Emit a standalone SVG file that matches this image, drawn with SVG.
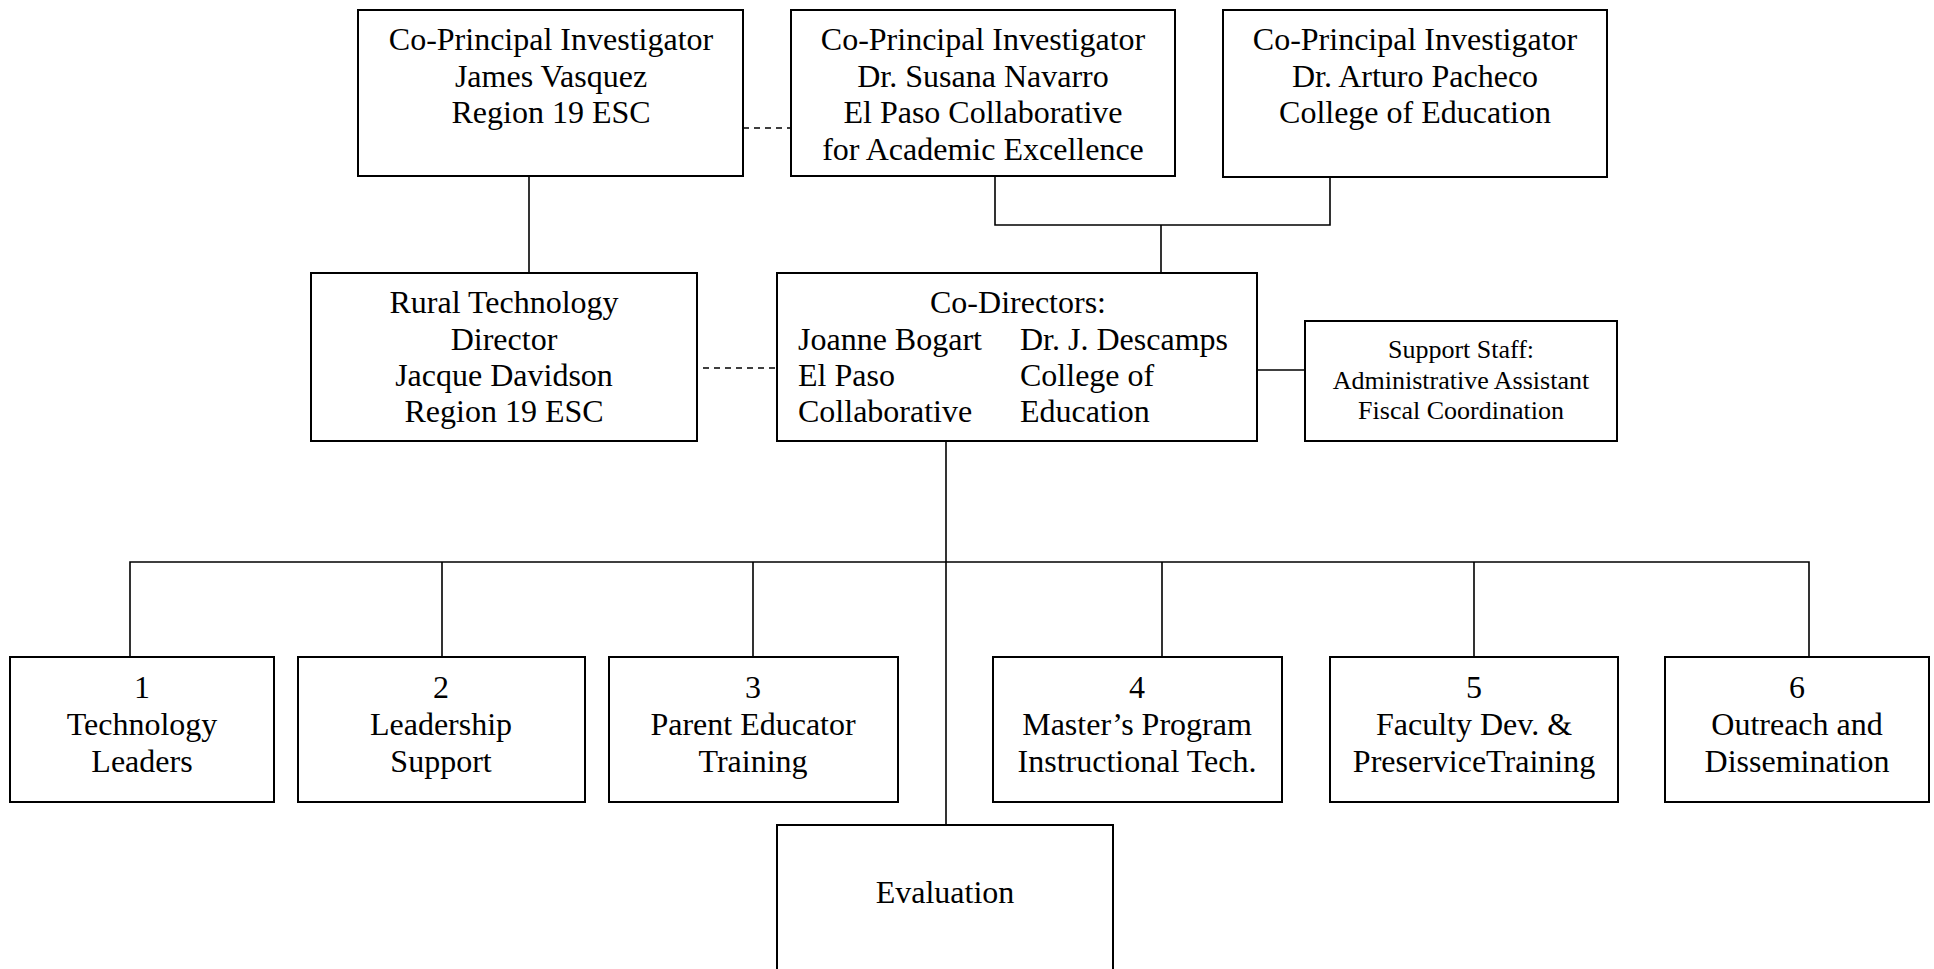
<svg xmlns="http://www.w3.org/2000/svg" width="1934" height="969" viewBox="0 0 1934 969">
<style>
.box{fill:#fff;stroke:#000;stroke-width:2}
.t{font-family:"Liberation Serif","Times New Roman",serif;font-size:32px;fill:#000;text-anchor:middle}
.s{font-size:26px}
.l{text-anchor:start}
.c{fill:none;stroke:#000;stroke-width:1.6}
.d{stroke-dasharray:6,5}
</style>
<rect width="1934" height="969" fill="#fff"/>
<g id="connectors">
<path class="c" d="M529 176V273"/>
<path class="c" d="M995 176V225H1330V177"/>
<path class="c" d="M1161 225V273"/>
<path class="c d" d="M743 128H791"/>
<path class="c d" d="M703 368H777"/>
<path class="c" d="M1257 370H1305"/>
<path class="c" d="M946 442V825"/>
<path class="c" d="M130 657V562H1809V657"/>
<path class="c" d="M442 562V657M753 562V657M1162 562V657M1474 562V657"/>
</g>
<g id="pi-vasquez">
<rect class="box" x="358" y="10" width="385" height="166"/>
<text class="t" x="551" y="50">Co-Principal Investigator</text>
<text class="t" x="551" y="87">James Vasquez</text>
<text class="t" x="551" y="123">Region 19 ESC</text>
</g>
<g id="pi-navarro">
<rect class="box" x="791" y="10" width="384" height="166"/>
<text class="t" x="983" y="50">Co-Principal Investigator</text>
<text class="t" x="983" y="87">Dr. Susana Navarro</text>
<text class="t" x="983" y="123">El Paso Collaborative</text>
<text class="t" x="983" y="160">for Academic Excellence</text>
</g>
<g id="pi-pacheco">
<rect class="box" x="1223" y="10" width="384" height="167"/>
<text class="t" x="1415" y="50">Co-Principal Investigator</text>
<text class="t" x="1415" y="87">Dr. Arturo Pacheco</text>
<text class="t" x="1415" y="123">College of Education</text>
</g>
<g id="rural-director">
<rect class="box" x="311" y="273" width="386" height="168"/>
<text class="t" x="504" y="313">Rural Technology</text>
<text class="t" x="504" y="350">Director</text>
<text class="t" x="504" y="386">Jacque Davidson</text>
<text class="t" x="504" y="422">Region 19 ESC</text>
</g>
<g id="co-directors">
<rect class="box" x="777" y="273" width="480" height="168"/>
<text class="t" x="1018" y="313">Co-Directors:</text>
<text class="t l" x="798" y="350">Joanne Bogart</text>
<text class="t l" x="798" y="386">El Paso</text>
<text class="t l" x="798" y="422">Collaborative</text>
<text class="t l" x="1020" y="350">Dr. J. Descamps</text>
<text class="t l" x="1020" y="386">College of</text>
<text class="t l" x="1020" y="422">Education</text>
</g>
<g id="support-staff">
<rect class="box" x="1305" y="321" width="312" height="120"/>
<text class="t s" x="1461" y="358">Support Staff:</text>
<text class="t s" x="1461" y="389">Administrative Assistant</text>
<text class="t s" x="1461" y="419">Fiscal Coordination</text>
</g>
<g id="comp1">
<rect class="box" x="10" y="657" width="264" height="145"/>
<text class="t" x="142" y="698">1</text>
<text class="t" x="142" y="735">Technology</text>
<text class="t" x="142" y="772">Leaders</text>
</g>
<g id="comp2">
<rect class="box" x="298" y="657" width="287" height="145"/>
<text class="t" x="441" y="698">2</text>
<text class="t" x="441" y="735">Leadership</text>
<text class="t" x="441" y="772">Support</text>
</g>
<g id="comp3">
<rect class="box" x="609" y="657" width="289" height="145"/>
<text class="t" x="753" y="698">3</text>
<text class="t" x="753" y="735">Parent Educator</text>
<text class="t" x="753" y="772">Training</text>
</g>
<g id="comp4">
<rect class="box" x="993" y="657" width="289" height="145"/>
<text class="t" x="1137" y="698">4</text>
<text class="t" x="1137" y="735">Master’s Program</text>
<text class="t" x="1137" y="772">Instructional Tech.</text>
</g>
<g id="comp5">
<rect class="box" x="1330" y="657" width="288" height="145"/>
<text class="t" x="1474" y="698">5</text>
<text class="t" x="1474" y="735">Faculty Dev. &amp;</text>
<text class="t" x="1474" y="772">PreserviceTraining</text>
</g>
<g id="comp6">
<rect class="box" x="1665" y="657" width="264" height="145"/>
<text class="t" x="1797" y="698">6</text>
<text class="t" x="1797" y="735">Outreach and</text>
<text class="t" x="1797" y="772">Dissemination</text>
</g>
<g id="evaluation">
<rect class="box" x="777" y="825" width="336" height="150"/>
<text class="t" x="945" y="903">Evaluation</text>
</g>
</svg>
